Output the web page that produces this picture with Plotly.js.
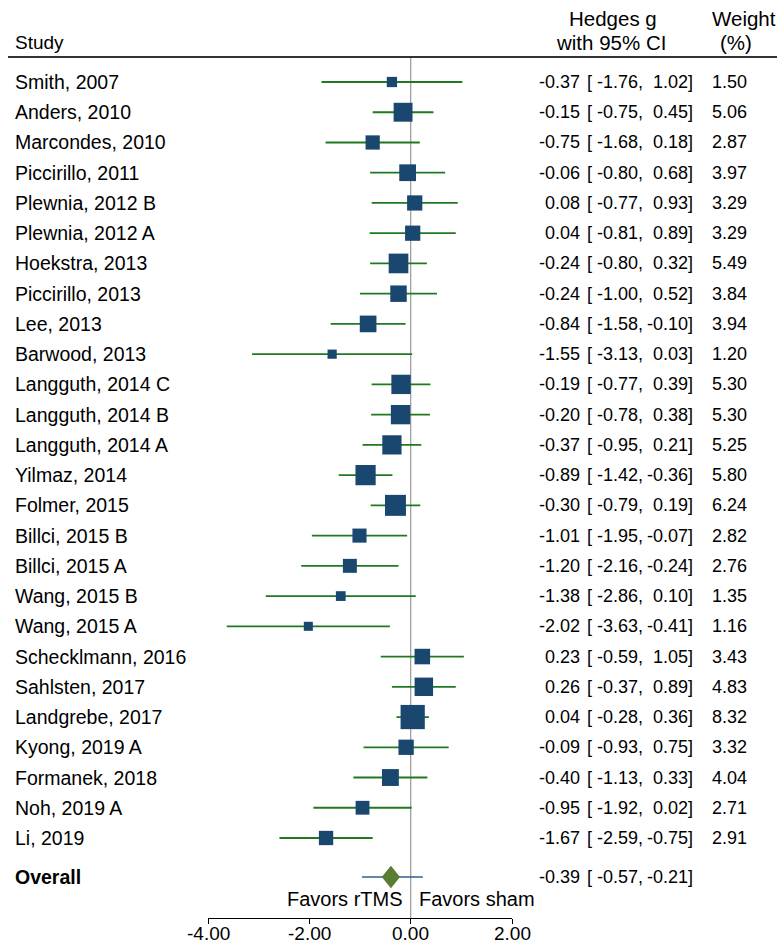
<!DOCTYPE html>
<html>
<head>
<meta charset="utf-8">
<script src="https://cdn.plot.ly/plotly-3.0.1.min.js"></script>
<style>html,body{margin:0;padding:0;background:#fff;}#chart{width:777px;height:945px;}</style>
</head>
<body>
<div id="chart"></div>
<script>
// ---- data ----
var studies = ["Smith, 2007","Anders, 2010","Marcondes, 2010","Piccirillo, 2011","Plewnia, 2012 B","Plewnia, 2012 A","Hoekstra, 2013","Piccirillo, 2013","Lee, 2013","Barwood, 2013","Langguth, 2014 C","Langguth, 2014 B","Langguth, 2014 A","Yilmaz, 2014","Folmer, 2015","Billci, 2015 B","Billci, 2015 A","Wang, 2015 B","Wang, 2015 A","Schecklmann, 2016","Sahlsten, 2017","Landgrebe, 2017","Kyong, 2019 A","Formanek, 2018","Noh, 2019 A","Li, 2019"];
var g     = [-0.37,-0.15,-0.75,-0.06,0.08,0.04,-0.24,-0.24,-0.84,-1.55,-0.19,-0.20,-0.37,-0.89,-0.30,-1.01,-1.20,-1.38,-2.02,0.23,0.26,0.04,-0.09,-0.40,-0.95,-1.67];
var lower = [-1.76,-0.75,-1.68,-0.80,-0.77,-0.81,-0.80,-1.00,-1.58,-3.13,-0.77,-0.78,-0.95,-1.42,-0.79,-1.95,-2.16,-2.86,-3.63,-0.59,-0.37,-0.28,-0.93,-1.13,-1.92,-2.59];
var upper = [1.02,0.45,0.18,0.68,0.93,0.89,0.32,0.52,-0.10,0.03,0.39,0.38,0.21,-0.36,0.19,-0.07,-0.24,0.10,-0.41,1.05,0.89,0.36,0.75,0.33,0.02,-0.75];
var weight = [1.50,5.06,2.87,3.97,3.29,3.29,5.49,3.84,3.94,1.20,5.30,5.30,5.25,5.80,6.24,2.82,2.76,1.35,1.16,3.43,4.83,8.32,3.32,4.04,2.71,2.91];
var overallLabel = "Overall";
var overall = {g: -0.39, lower: -0.57, upper: -0.21};
var predInt = [-0.96, 0.24];
var xTicks = [-4, -2, 0, 2];
var favorLabels = ["Favors rTMS", "Favors sham"];

// ---- layout helpers ----
var W = 777, H = 945;
var plotL = 208, plotR = 512, plotT = 57, plotB = 918;
function px2fx(px){ return (px - plotL) / (plotR - plotL); }
function py2fy(py){ return (plotB - py) / (plotB - plotT); }
var FONT = "Liberation Sans, Arial, Helvetica, sans-serif";
var fsName = 19.5, fsNum = 18, fsHead = 20.5, fsTick = 19, fsFav = 20;

var n = studies.length;
var ys = studies.map(function(_, i){ return i; });
var yOverall = n - 1 + 1.29;

// CI lines
var lx = [], ly = [];
for (var i = 0; i < n; i++) { lx.push(lower[i], upper[i], null); ly.push(ys[i], ys[i], null); }

var traces = [
  {type:'scatter', mode:'lines', x:lx, y:ly, line:{color:'#1f7a1f', width:1.8}, hoverinfo:'skip', showlegend:false},
  {type:'scatter', mode:'markers', x:g, y:ys,
   marker:{symbol:'square', color:'#1a476f', opacity:1, size:weight.map(function(w){return 8.4*Math.sqrt(w);}), line:{width:0}},
   showlegend:false, cliponaxis:false},
  {type:'scatter', mode:'lines', x:predInt, y:[yOverall, yOverall], line:{color:'#2f5f8f', width:1.5}, hoverinfo:'skip', showlegend:false}
];

var shapes = [
  {type:'line', xref:'paper', yref:'paper', x0:px2fx(8), x1:px2fx(777), y0:1, y1:1, line:{color:'#333', width:2}},
  {type:'line', xref:'x', yref:'paper', x0:0, x1:0, y0:0, y1:1, line:{color:'#a0a0a0', width:1.3}, layer:'below'},
  {type:'path', xref:'x', yref:'y',
   path:'M '+overall.lower+','+yOverall+' L '+overall.g+','+(yOverall-0.37)+' L '+overall.upper+','+yOverall+' L '+overall.g+','+(yOverall+0.37)+' Z',
   fillcolor:'#5a7d32', line:{width:0}}
];

var ann = [];
function txt(x, y, t, anchor, size, xr){
  ann.push({xref: xr || 'paper', yref:'paper', x:x, y:y, text:t, showarrow:false, xanchor:anchor, yanchor:'middle',
           font:{family:FONT, size:size, color:'#000'}});
}
// header
txt(px2fx(13), py2fy(43), "Study", 'left', 19);
txt(px2fx(613), py2fy(19), "Hedges g", 'center', fsHead);
txt(px2fx(611), py2fy(43), "with 95% CI", 'center', fsHead);
txt(px2fx(744), py2fy(19), "Weight", 'center', fsHead);
txt(px2fx(736), py2fy(43), "(%)", 'center', fsHead);

function rowPy(y){ return 82 + 30.24 * y; }
for (var i = 0; i < n; i++) {
  var py = py2fy(rowPy(ys[i]));
  txt(px2fx(13), py, studies[i], 'left', fsName);
  txt(px2fx(582), py, g[i].toFixed(2), 'right', fsNum);
  txt(px2fx(585), py, "[ " + lower[i].toFixed(2) + ",", 'left', fsNum);
  txt(px2fx(695), py, upper[i].toFixed(2) + "]", 'right', fsNum);
  txt(px2fx(749), py, weight[i].toFixed(2), 'right', fsNum);
}
var pyo = py2fy(rowPy(yOverall));
txt(px2fx(13), pyo, "<b>" + overallLabel + "</b>", 'left', fsName);
txt(px2fx(582), pyo, overall.g.toFixed(2), 'right', fsNum);
txt(px2fx(585), pyo, "[ " + overall.lower.toFixed(2) + ",", 'left', fsNum);
txt(px2fx(695), pyo, overall.upper.toFixed(2) + "]", 'right', fsNum);
txt(px2fx(405), py2fy(899), favorLabels[0], 'right', fsFav);
txt(px2fx(417), py2fy(899), favorLabels[1], 'left', fsFav);
// x tick labels
xTicks.forEach(function(v){ txt(v, py2fy(933), v.toFixed(2), 'center', fsTick, 'x'); });

var layout = {
  width: W, height: H,
  margin: {l: plotL, r: W - plotR, t: plotT, b: H - plotB, pad: 0},
  paper_bgcolor: '#fff', plot_bgcolor: '#fff',
  showlegend: false,
  xaxis: {range: [-4, 2], tickvals: xTicks, showticklabels: false,
          showgrid: false, zeroline: false, showline: true, linecolor: '#000', linewidth: 1,
          ticks: 'outside', ticklen: 5, tickcolor: '#000', tickwidth: 1, fixedrange: true},
  yaxis: {range: [ (plotB - 82) / 30.24, (plotT - 82) / 30.24 ], showgrid: false, zeroline: false,
          showline: false, showticklabels: false, ticks: '', fixedrange: true},
  shapes: shapes,
  annotations: ann
};

Plotly.newPlot('chart', traces, layout, {displayModeBar: false, staticPlot: true});
</script>
</body>
</html>
